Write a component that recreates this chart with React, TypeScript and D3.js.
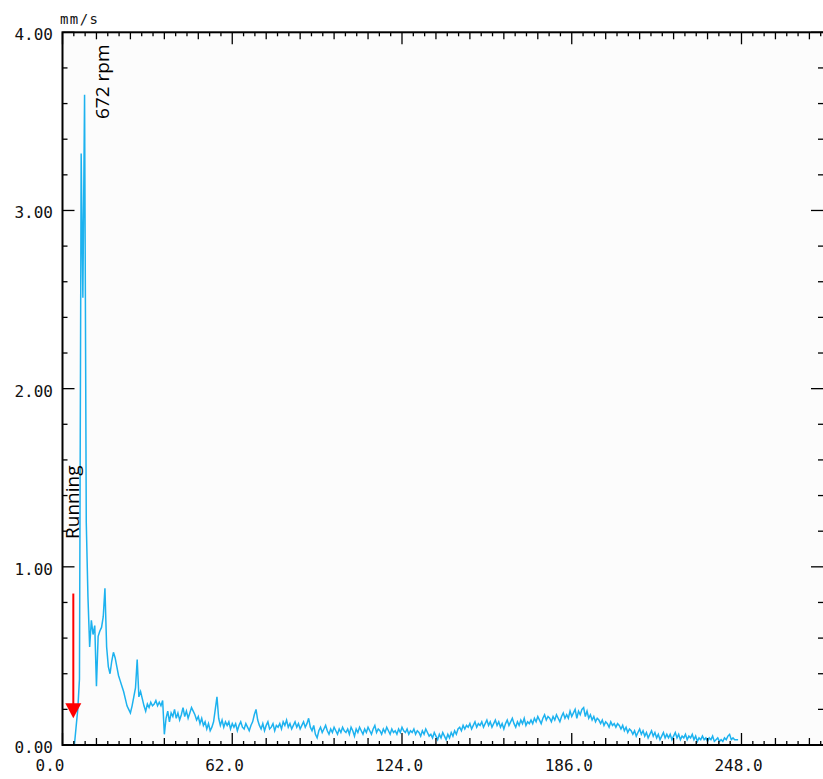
import React from 'react';
import * as d3 from 'd3';

// ---------- data ----------
const FREQ_START = 4.34;
const FREQ_STEP = 0.62;
const X_MAX = 278.5;
const Y_MAX = 4;
const X_MAJOR = 62;
const X_TICK_LABELS = ['0.0', '62.0', '124.0', '186.0', '248.0'];
const Y_TICK_VALUES = [0, 1, 2, 3, 4];
const Y_TICK_LABELS = ['0.00', '1.00', '2.00', '3.00', '4.00'];
const UNIT_LABEL = 'mm/s';
const PEAK_LABEL = '672 rpm';
const RUN_LABEL = 'Running';
const RUN_FREQ = 3.95;
const RUN_ARROW_TOP = 0.85;
const RUN_ARROW_TIP = 0.15;

const amplitude: number[] = [
  0.0, 0.1, 0.2, 0.37, 3.32, 2.51, 3.65, 1.25, 0.83, 0.55,
  0.70, 0.62, 0.67, 0.33, 0.61, 0.64, 0.66, 0.72, 0.88, 0.55,
  0.44, 0.40, 0.47, 0.52, 0.49, 0.44, 0.39, 0.36, 0.33, 0.30,
  0.26, 0.22, 0.20, 0.18, 0.22, 0.27, 0.32, 0.48, 0.27, 0.30,
  0.26, 0.22, 0.19, 0.23, 0.21, 0.24, 0.22, 0.23, 0.25, 0.22,
  0.24, 0.22, 0.25, 0.06, 0.15, 0.19, 0.13, 0.18, 0.16, 0.20,
  0.15, 0.18, 0.14, 0.17, 0.21, 0.16, 0.19, 0.15, 0.18, 0.21,
  0.19, 0.17, 0.14, 0.16, 0.12, 0.15, 0.11, 0.13, 0.09, 0.12,
  0.08, 0.10, 0.13, 0.20, 0.27, 0.15, 0.11, 0.14, 0.10, 0.13,
  0.11, 0.13, 0.09, 0.12, 0.10, 0.12, 0.08, 0.11, 0.13, 0.10,
  0.09, 0.12, 0.10, 0.08, 0.11, 0.13, 0.17, 0.20, 0.14, 0.11,
  0.09, 0.12, 0.08, 0.11, 0.13, 0.09, 0.10, 0.12, 0.08, 0.11,
  0.10, 0.12, 0.09, 0.13, 0.11, 0.14, 0.10, 0.12, 0.09, 0.11,
  0.13, 0.10, 0.12, 0.09, 0.11, 0.13, 0.10, 0.12, 0.15, 0.10,
  0.08, 0.11, 0.06, 0.04, 0.08, 0.10, 0.07, 0.09, 0.11, 0.08,
  0.06, 0.09, 0.07, 0.10, 0.08, 0.06, 0.09, 0.07, 0.10, 0.08,
  0.07, 0.09, 0.06, 0.10, 0.08, 0.05, 0.09, 0.07, 0.10, 0.08,
  0.06, 0.09, 0.07, 0.10, 0.08, 0.06, 0.09, 0.11, 0.07, 0.09,
  0.08, 0.06, 0.09, 0.07, 0.10, 0.08, 0.06, 0.09, 0.07, 0.08,
  0.06, 0.09, 0.07, 0.10, 0.08, 0.07, 0.09, 0.06, 0.08, 0.07,
  0.09, 0.06, 0.08, 0.07, 0.05, 0.08, 0.06, 0.09, 0.07, 0.05,
  0.06, 0.04, 0.07, 0.05, 0.03, 0.06, 0.04, 0.07, 0.05, 0.03,
  0.06, 0.04, 0.07, 0.05, 0.08, 0.06, 0.09, 0.10, 0.08, 0.11,
  0.09, 0.11, 0.10, 0.12, 0.09, 0.11, 0.13, 0.10, 0.12, 0.11,
  0.13, 0.10, 0.12, 0.14, 0.11, 0.13, 0.10, 0.12, 0.14, 0.11,
  0.13, 0.10, 0.12, 0.09, 0.12, 0.14, 0.11, 0.13, 0.15, 0.12,
  0.10, 0.13, 0.11, 0.14, 0.12, 0.15, 0.11, 0.13, 0.12, 0.14,
  0.12, 0.15, 0.13, 0.16, 0.14, 0.12, 0.15, 0.17, 0.14, 0.16,
  0.15, 0.13, 0.16, 0.14, 0.17, 0.15, 0.13, 0.16, 0.18, 0.15,
  0.17, 0.15, 0.19, 0.16, 0.18, 0.20, 0.15, 0.19, 0.17, 0.20,
  0.21, 0.16, 0.19, 0.15, 0.17, 0.14, 0.16, 0.13, 0.15, 0.14,
  0.12, 0.14, 0.11, 0.13, 0.12, 0.10, 0.13, 0.11, 0.12, 0.10,
  0.12, 0.11, 0.09, 0.11, 0.08, 0.10, 0.07, 0.09, 0.08, 0.06,
  0.08, 0.05, 0.07, 0.09, 0.06, 0.08, 0.05, 0.07, 0.04, 0.06,
  0.08, 0.05, 0.07, 0.04, 0.06, 0.03, 0.05, 0.07, 0.04, 0.06,
  0.04, 0.06, 0.03, 0.05, 0.07, 0.04, 0.06, 0.03, 0.05, 0.04,
  0.06, 0.03, 0.05, 0.04, 0.06, 0.03, 0.05, 0.02, 0.04, 0.03,
  0.05, 0.03, 0.04, 0.02, 0.04, 0.03, 0.05, 0.02, 0.03, 0.04,
  0.02, 0.03, 0.02, 0.04, 0.03, 0.05, 0.06, 0.03, 0.04, 0.03,
  0.03, 0.03,
];

// ---------- layout ----------
const W = 823;
const H = 779;
const LEFT = 62.5;
const RIGHT = 825;
const TOP = 32.3;
const BOTTOM = 745;
const LINE_COLOR = '#1db2ef';
const MONO = '"DejaVu Sans Mono", "Liberation Mono", monospace';
const SANS = '"Open Sans", "Noto Sans", sans-serif';

export default function App() {
  const x = d3.scaleLinear().domain([0, X_MAX]).range([LEFT, RIGHT]);
  const y = d3.scaleLinear().domain([0, Y_MAX]).range([BOTTOM, TOP]);

  const points: [number, number][] = amplitude.map((v, i) => [FREQ_START + i * FREQ_STEP, v]);
  const line = d3
    .line<[number, number]>()
    .x((d) => x(d[0]))
    .y((d) => y(d[1]));

  const minorStep = X_MAJOR / 15;
  const nX = Math.floor(X_MAX / minorStep + 1e-6);
  const xTicks = d3.range(0, nX + 1).map((i) => ({
    v: i * minorStep,
    len: i % 15 === 0 ? 12 : i % 3 === 0 ? 7 : 4,
  }));
  const yTicks = d3.range(0, 21).map((j) => ({ v: j * 0.2, len: j % 5 === 0 ? 12 : 5 }));

  const runX = x(RUN_FREQ);
  const arrowTop = y(RUN_ARROW_TOP);
  const arrowTip = y(RUN_ARROW_TIP);

  return (
    <svg
      width={W}
      height={H}
      viewBox={`0 0 ${W} ${H}`}
      style={{ position: 'absolute', left: 0, top: 0, background: '#ffffff' }}
    >
      <rect x={LEFT} y={TOP} width={RIGHT - LEFT} height={BOTTOM - TOP} fill="#fcfcfc" />

      {/* data line */}
      <path d={line(points) || ''} fill="none" stroke={LINE_COLOR} strokeWidth={1.5} strokeLinejoin="miter" />

      {/* frame */}
      <rect x={LEFT} y={TOP} width={RIGHT - LEFT} height={BOTTOM - TOP} fill="none" stroke="#000" strokeWidth={2} />

      {/* ticks */}
      <g stroke="#000" strokeWidth={1.3}>
        {xTicks.map((t, i) => (
          <g key={'xt' + i}>
            <line x1={x(t.v)} x2={x(t.v)} y1={BOTTOM} y2={BOTTOM - t.len} />
            <line x1={x(t.v)} x2={x(t.v)} y1={TOP} y2={TOP + t.len} />
          </g>
        ))}
        {yTicks.map((t, i) => (
          <g key={'yt' + i}>
            <line x1={LEFT} x2={LEFT + t.len} y1={y(t.v)} y2={y(t.v)} />
            <line x1={RIGHT} x2={RIGHT - t.len - 2} y1={y(t.v)} y2={y(t.v)} />
          </g>
        ))}
      </g>

      {/* tick labels */}
      <g fontFamily={MONO} fontSize={16} fill="#111">
        {X_TICK_LABELS.map((lab, i) => (
          <text key={'xl' + i} x={x(i * X_MAJOR) - 27} y={771}>
            {lab}
          </text>
        ))}
        {Y_TICK_LABELS.map((lab, i) => (
          <text key={'yl' + i} x={53} y={y(Y_TICK_VALUES[i]) + 8} textAnchor="end">
            {lab}
          </text>
        ))}
      </g>
      <text x={60} y={24} fontFamily={MONO} fontSize={14} letterSpacing={1.4} fill="#111">
        {UNIT_LABEL}
      </text>

      {/* annotations */}
      <text transform={`translate(108.5, 119) rotate(-90)`} fontFamily={SANS} fontSize={19} fill="#000">
        {PEAK_LABEL}
      </text>
      <text transform={`translate(78.5, 539) rotate(-90)`} fontFamily={SANS} fontSize={19} fill="#000">
        {RUN_LABEL}
      </text>

      {/* red arrow */}
      <line x1={runX} x2={runX} y1={arrowTop} y2={arrowTip - 14} stroke="#ff0000" strokeWidth={2} />
      <path
        d={`M${runX - 8},${arrowTip - 15} L${runX + 8},${arrowTip - 15} L${runX},${arrowTip} Z`}
        fill="#ff0000"
      />
    </svg>
  );
}
